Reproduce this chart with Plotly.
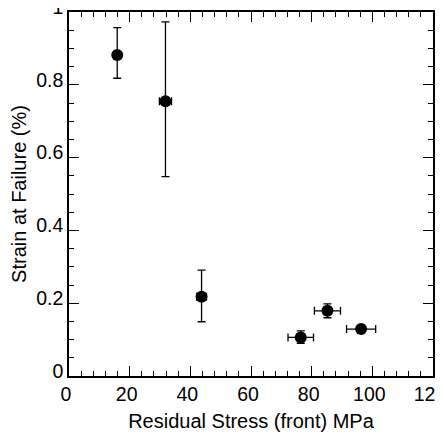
import plotly.graph_objects as go

stress = [15.9, 31.8, 43.7, 76.4, 85.2, 96.3]
stress_err = [0.0, 2.0, 1.6, 4.2, 4.3, 4.8]
strain = [0.882, 0.755, 0.218, 0.106, 0.179, 0.129]
strain_err_plus = [0.075, 0.218, 0.073, 0.018, 0.019, 0.0]
strain_err_minus = [0.064, 0.207, 0.069, 0.016, 0.019, 0.0]
x_range = [0, 120]
y_range = [0, 1]

FONT = "Liberation Sans, Arial, sans-serif"

fig = go.Figure()
fig.add_trace(go.Scatter(
    x=stress, y=strain, mode="markers",
    marker=dict(color="black", size=12),
    error_x=dict(type="data", array=stress_err, color="black", thickness=1.3, width=4),
    error_y=dict(type="data", symmetric=False, array=strain_err_plus,
                 arrayminus=strain_err_minus, color="black", thickness=1.3, width=4),
    showlegend=False,
))
# invisible copy on the top/right axes so that those axes are drawn with their ticks
fig.add_trace(go.Scatter(
    x=stress, y=strain, mode="markers", xaxis="x2", yaxis="y2",
    marker=dict(color="rgba(0,0,0,0)", size=1), hoverinfo="skip", showlegend=False,
))

tick_common = dict(
    showgrid=False, zeroline=False, showline=True, linecolor="black", linewidth=1.5,
    ticks="inside", ticklen=10, tickwidth=1.3, tickcolor="black", automargin=False,
    layer="above traces",
)
lab_font = dict(family=FONT, size=19.5, color="black")

fig.update_layout(
    xaxis=dict(range=x_range, dtick=20, tick0=0, tickfont=lab_font,
               ticklabeloverflow="allow", ticklabelshift=-3,
               minor=dict(dtick=4, tick0=0, ticklen=5, tickwidth=1.1, tickcolor="black", ticks="inside"),
               title=dict(text="Residual Stress (front) MPa", standoff=10,
                          font=dict(family=FONT, size=20, color="black")),
               **tick_common),
    yaxis=dict(range=y_range, dtick=0.2, tick0=0, tickfont=lab_font,
               ticklabeloverflow="allow", ticklabelshift=-5,
               minor=dict(dtick=0.05, ticklen=5, tickwidth=1.1, tickcolor="black", ticks="inside"),
               title=dict(text="Strain at Failure (%)", standoff=6,
                          font=dict(family=FONT, size=20, color="black")),
               **tick_common),
    xaxis2=dict(range=x_range, dtick=20, tick0=0, overlaying="x", side="top", anchor="y2",
                showticklabels=False,
                minor=dict(dtick=4, tick0=0, ticklen=5, tickwidth=1.1, tickcolor="black", ticks="inside"),
                **tick_common),
    yaxis2=dict(range=y_range, dtick=0.2, tick0=0, overlaying="y", side="right", anchor="x2",
                showticklabels=False,
                minor=dict(dtick=0.05, ticklen=5, tickwidth=1.1, tickcolor="black", ticks="inside"),
                **tick_common),
    # the page body adds an 8px offset, so the figure is sized to fit the window
    width=436, height=429,
    margin=dict(l=61, r=11, t=4, b=61),
    plot_bgcolor="white", paper_bgcolor="white",
)
fig.write_html("out.html")
